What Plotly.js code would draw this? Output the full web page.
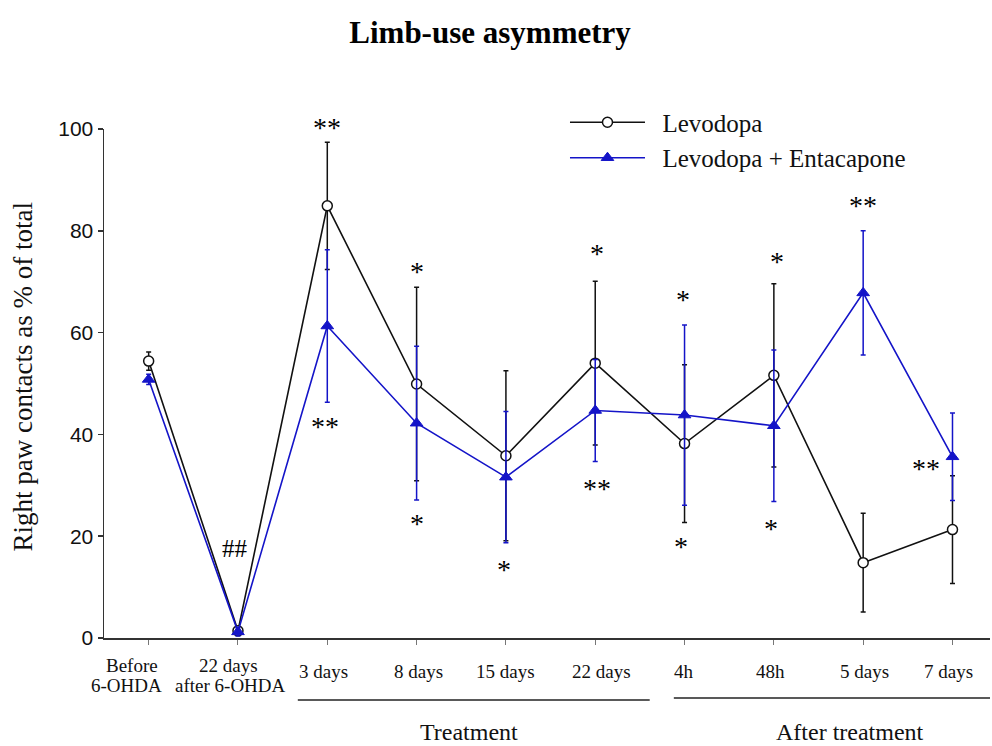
<!DOCTYPE html>
<html>
<head>
<meta charset="utf-8">
<script src="https://cdn.plot.ly/plotly-3.0.1.min.js"></script>
<style>html,body{margin:0;padding:0;background:#fff;}#chart{width:992px;height:746px;}</style>
</head>
<body>
<div id="chart"></div>
<script>
// ---- data ----
const tickLabels = [["Before", "6-OHDA"], ["22 days", "after 6-OHDA"], ["3 days"], ["8 days"], ["15 days"], ["22 days"], ["4h"], ["48h"], ["5 days"], ["7 days"]];
const xIndex = [0, 1, 2, 3, 4, 5, 6, 7, 8, 9];
const levodopa = [54.4, 1.4, 84.9, 49.9, 35.8, 54.0, 38.2, 51.6, 14.8, 21.3];
const levodopaErr = [1.8, 0.8, 12.5, 19.0, 16.7, 16.1, 15.5, 18.0, 9.7, 10.6];
const entacapone = [50.8, 1.2, 61.3, 42.2, 31.6, 44.7, 43.8, 41.7, 67.8, 35.6];
const entacaponeErr = [1.0, 0.8, 15.0, 15.1, 12.9, 10.0, 17.7, 14.9, 12.2, 8.6];
// significance marks (x in category index, y in % units)
const sigText = ["**", "**", "*", "*", "*", "*", "**", "*", "*", "*", "*", "**", "**", "##"];
const sigX = [2.0, 1.97, 3.0, 3.0, 3.98, 5.02, 5.02, 5.98, 5.96, 7.04, 6.97, 8.0, 8.70, 0.97];
const sigY = [100.8, 42.2, 72.5, 23.0, 14.0, 76.2, 29.9, 67.1, 18.6, 74.6, 22.1, 85.5, 33.8, 17.6];

// ---- styling ----
const BLUE = '#1414c8';
const SERIF = 'Liberation Serif, Times New Roman, serif';
const Y_MAX = 100;
// horizontal pixel nudges of tick label lines (as set in the original figure)
const labelNudge = [[-17, -22], [-9, -7], [-4], [2], [0], [6], [-1], [-3], [1], [-4]];
const LINE1_Y = -0.055, LINE2_Y = -0.0935, SINGLE_Y = -0.065;

const traces = [
  {
    x: xIndex, y: levodopa, name: '&nbsp;&nbsp;Levodopa', type: 'scatter', mode: 'lines+markers',
    line: {color: '#111', width: 1.6},
    marker: {symbol: 'circle', size: 10, color: '#fff', line: {color: '#111', width: 1.5}},
    error_y: {type: 'data', array: levodopaErr, visible: true, color: '#111', thickness: 1.5, width: 2.5},
    cliponaxis: false
  },
  {
    x: xIndex, y: entacapone, name: '&nbsp;&nbsp;Levodopa + Entacapone', type: 'scatter', mode: 'lines+markers',
    line: {color: BLUE, width: 1.6},
    marker: {symbol: 'triangle-up', size: 11, color: BLUE, line: {color: BLUE, width: 1}},
    error_y: {type: 'data', array: entacaponeErr, visible: true, color: BLUE, thickness: 1.5, width: 2.5},
    cliponaxis: false
  }
];

// y axis spans 0..Y_MAX, so paper fraction = value / Y_MAX (paper refs are never clipped)
const annotations = sigText.map((t, i) => ({
  x: sigX[i], y: sigY[i] / Y_MAX, xref: 'x', yref: 'paper', text: t, showarrow: false,
  xanchor: 'center', yanchor: 'middle', yshift: t === '##' ? 0 : -3,
  font: {family: SERIF, size: t === '##' ? 25 : 28, color: '#000'}
}));
// category tick labels, placed at each category position
tickLabels.forEach((lines, i) => {
  lines.forEach((txt, j) => {
    annotations.push({
      x: xIndex[i], xref: 'x', yref: 'paper', text: txt, showarrow: false,
      y: lines.length === 1 ? SINGLE_Y : (j === 0 ? LINE1_Y : LINE2_Y),
      xanchor: 'center', yanchor: 'middle', xshift: labelNudge[i][j],
      font: {family: SERIF, size: 19, color: '#111'}
    });
  });
});
annotations.push(
  {x: 3.59, y: -0.185, xref: 'x', yref: 'paper', text: 'Treatment', showarrow: false,
   xanchor: 'center', yanchor: 'middle', font: {family: SERIF, size: 24, color: '#111'}},
  {x: 7.85, y: -0.185, xref: 'x', yref: 'paper', text: 'After treatment', showarrow: false,
   xanchor: 'center', yanchor: 'middle', font: {family: SERIF, size: 24, color: '#111'}}
);

const layout = {
  width: 992, height: 746,
  margin: {l: 104, r: 2, t: 129, b: 108},
  paper_bgcolor: '#fff', plot_bgcolor: '#fff',
  title: {text: '<b>Limb-use asymmetry</b>', x: 0.494, xanchor: 'center', y: 0.957, yanchor: 'middle',
          font: {family: SERIF, size: 31, color: '#000'}},
  showlegend: true,
  legend: {x: 0.5203, y: 1.058, xanchor: 'left', yanchor: 'top', bgcolor: 'rgba(0,0,0,0)',
           font: {family: SERIF, size: 25, color: '#111'}, itemwidth: 75, tracegroupgap: 0},
  xaxis: {
    range: [-0.5, 9.42], tickmode: 'array', tickvals: xIndex, showticklabels: false,
    showgrid: false, zeroline: false, showline: true, linecolor: '#333', linewidth: 1.5,
    ticks: 'outside', ticklen: 5, tickcolor: '#777', tickwidth: 1, fixedrange: true
  },
  yaxis: {
    range: [0, Y_MAX], tickvals: [0, 20, 40, 60, 80, 100],
    showgrid: false, zeroline: false, showline: true, linecolor: '#333', linewidth: 1.5,
    ticks: 'outside', ticklen: 5, tickcolor: '#333', tickwidth: 1.5,
    tickfont: {family: 'Liberation Sans, Arial, sans-serif', size: 21, color: '#111'},
    title: {text: '&nbsp;&nbsp;Right paw contacts as % of total', font: {family: SERIF, size: 27, color: '#111'}, standoff: 18},
    fixedrange: true
  },
  shapes: [
    {type: 'line', xref: 'x', yref: 'paper', x0: 1.67, x1: 5.61, y0: -0.122, y1: -0.122, line: {color: '#222', width: 1.5}},
    {type: 'line', xref: 'x', yref: 'paper', x0: 5.88, x1: 9.42, y0: -0.118, y1: -0.118, line: {color: '#222', width: 1.5}}
  ],
  annotations: annotations
};

Plotly.newPlot('chart', traces, layout, {displayModeBar: false, staticPlot: true});
</script>
</body>
</html>
